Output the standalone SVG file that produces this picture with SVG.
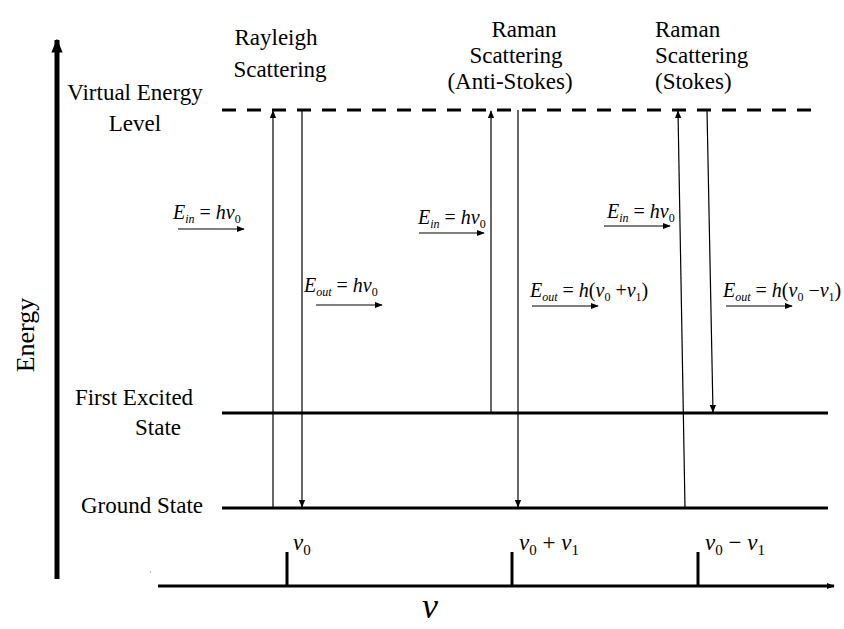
<svg xmlns="http://www.w3.org/2000/svg" width="844" height="629" viewBox="0 0 844 629" font-family="'Liberation Serif', serif">
<style>
text{font-family:"Liberation Serif",serif;fill:#000}
.lbl{font-size:23px}
.m{font-size:20px}
.b{font-size:23px}
.i{font-style:italic}
.s{font-size:12px}
.sb{font-size:15px}
.lvl{stroke:#000;stroke-width:3;fill:none}
.tr{stroke:#000;stroke-width:1.2;fill:none}
.ar{stroke:#000;stroke-width:1.2;fill:none}
</style>
<defs>
<marker id="ah" viewBox="0 0 10 10" refX="9" refY="5" markerWidth="8" markerHeight="8" markerUnits="userSpaceOnUse" orient="auto"><path d="M0,1 L10,5 L0,9 z" fill="#000"/></marker>
<marker id="big" viewBox="0 0 10 10" refX="9" refY="5" markerWidth="14" markerHeight="14" markerUnits="userSpaceOnUse" orient="auto"><path d="M0,1 L10,5 L0,9 z" fill="#000"/></marker>
</defs>
<g id="axes">
<line x1="57" y1="579" x2="57" y2="40" stroke="#000" stroke-width="5" marker-end="url(#big)"/>
<text x="34" y="335" font-size="26" text-anchor="middle" transform="rotate(-90 34 335)">Energy</text>
<line x1="158" y1="586" x2="834" y2="586" stroke="#000" stroke-width="3" marker-end="url(#ah)"/>
<line x1="287" y1="552" x2="287" y2="586" stroke="#000" stroke-width="3"/>
<line x1="512" y1="552" x2="512" y2="586" stroke="#000" stroke-width="3"/>
<line x1="698" y1="552" x2="698" y2="586" stroke="#000" stroke-width="3"/>
<circle cx="150.5" cy="572" r="0.6" fill="#555"/>
<text x="430" y="618" font-size="36" class="i" text-anchor="middle">ν</text>
<text x="293" y="550" class="b"><tspan class="i">ν</tspan><tspan class="sb" dy="5">0</tspan></text>
<text x="519" y="550" class="b"><tspan class="i">ν</tspan><tspan class="sb" dy="5">0</tspan><tspan dy="-5"> + </tspan><tspan class="i">ν</tspan><tspan class="sb" dy="5">1</tspan></text>
<text x="705" y="550" class="b"><tspan class="i">ν</tspan><tspan class="sb" dy="5">0</tspan><tspan dy="-5"> − </tspan><tspan class="i">ν</tspan><tspan class="sb" dy="5">1</tspan></text>
</g>
<g id="virtual-level">
<line x1="222" y1="110" x2="820" y2="110" class="lvl" stroke-dasharray="14,11"/>
<text x="135" y="100" class="lbl" text-anchor="middle">Virtual Energy</text>
<text x="135" y="131" class="lbl" text-anchor="middle">Level</text>
</g>
<g id="first-excited">
<line x1="222" y1="413" x2="828" y2="413" class="lvl"/>
<text x="134" y="405" class="lbl" text-anchor="middle">First Excited</text>
<text x="158" y="435" class="lbl" text-anchor="middle">State</text>
</g>
<g id="ground">
<line x1="222" y1="508" x2="828" y2="508" class="lvl"/>
<text x="142" y="513" class="lbl" text-anchor="middle">Ground State</text>
</g>
<g id="rayleigh">
<text x="276" y="45" class="lbl" text-anchor="middle">Rayleigh</text>
<text x="280" y="77" class="lbl" text-anchor="middle">Scattering</text>
</g>
<g id="anti-stokes">
<text x="524" y="37" class="lbl" text-anchor="middle">Raman</text>
<text x="516" y="63" class="lbl" text-anchor="middle">Scattering</text>
<text x="510" y="89" class="lbl" text-anchor="middle">(Anti-Stokes)</text>
</g>
<g id="stokes">
<text x="655" y="37" class="lbl">Raman</text>
<text x="655" y="63" class="lbl">Scattering</text>
<text x="655" y="89" class="lbl">(Stokes)</text>
</g>
<g id="connectors">
<line x1="273" y1="508" x2="273" y2="111" class="tr" marker-end="url(#ah)"/>
<line x1="302" y1="110" x2="302" y2="507" class="tr" marker-end="url(#ah)"/>
<line x1="491" y1="413" x2="491" y2="111" class="tr" marker-end="url(#ah)"/>
<line x1="518" y1="110" x2="518" y2="507" class="tr" marker-end="url(#ah)"/>
<line x1="685" y1="508" x2="678" y2="111" class="tr" marker-end="url(#ah)"/>
<line x1="707" y1="110" x2="713" y2="412" class="tr" marker-end="url(#ah)"/>
<line x1="178" y1="229" x2="244" y2="229" class="ar" marker-end="url(#ah)"/>
<line x1="316" y1="305" x2="382" y2="305" class="ar" marker-end="url(#ah)"/>
<line x1="419" y1="233" x2="484" y2="233" class="ar" marker-end="url(#ah)"/>
<line x1="532" y1="306" x2="598" y2="306" class="ar" marker-end="url(#ah)"/>
<line x1="604" y1="226" x2="670" y2="226" class="ar" marker-end="url(#ah)"/>
<line x1="726" y1="306" x2="792" y2="306" class="ar" marker-end="url(#ah)"/>
</g>
<g id="eq-labels">
<text x="173" y="219" class="m"><tspan class="i">E</tspan><tspan class="i s" dy="4">in</tspan><tspan dy="-4"> = </tspan><tspan class="i">hν</tspan><tspan class="s" dy="4">0</tspan></text>
<text x="304" y="292" class="m"><tspan class="i">E</tspan><tspan class="i s" dy="4">out</tspan><tspan dy="-4"> = </tspan><tspan class="i">hν</tspan><tspan class="s" dy="4">0</tspan></text>
<text x="418" y="224" class="m"><tspan class="i">E</tspan><tspan class="i s" dy="4">in</tspan><tspan dy="-4"> = </tspan><tspan class="i">hν</tspan><tspan class="s" dy="4">0</tspan></text>
<text x="530" y="297" class="m"><tspan class="i">E</tspan><tspan class="i s" dy="4">out</tspan><tspan dy="-4"> = </tspan><tspan class="i">h</tspan><tspan>(</tspan><tspan class="i">ν</tspan><tspan class="s" dy="4">0</tspan><tspan dy="-4"> +</tspan><tspan class="i">ν</tspan><tspan class="s" dy="4">1</tspan><tspan dy="-4">)</tspan></text>
<text x="607" y="218" class="m"><tspan class="i">E</tspan><tspan class="i s" dy="4">in</tspan><tspan dy="-4"> = </tspan><tspan class="i">hν</tspan><tspan class="s" dy="4">0</tspan></text>
<text x="723" y="297" class="m"><tspan class="i">E</tspan><tspan class="i s" dy="4">out</tspan><tspan dy="-4"> = </tspan><tspan class="i">h</tspan><tspan>(</tspan><tspan class="i">ν</tspan><tspan class="s" dy="4">0</tspan><tspan dy="-4"> −</tspan><tspan class="i">ν</tspan><tspan class="s" dy="4">1</tspan><tspan dy="-4">)</tspan></text>
</g>
</svg>
